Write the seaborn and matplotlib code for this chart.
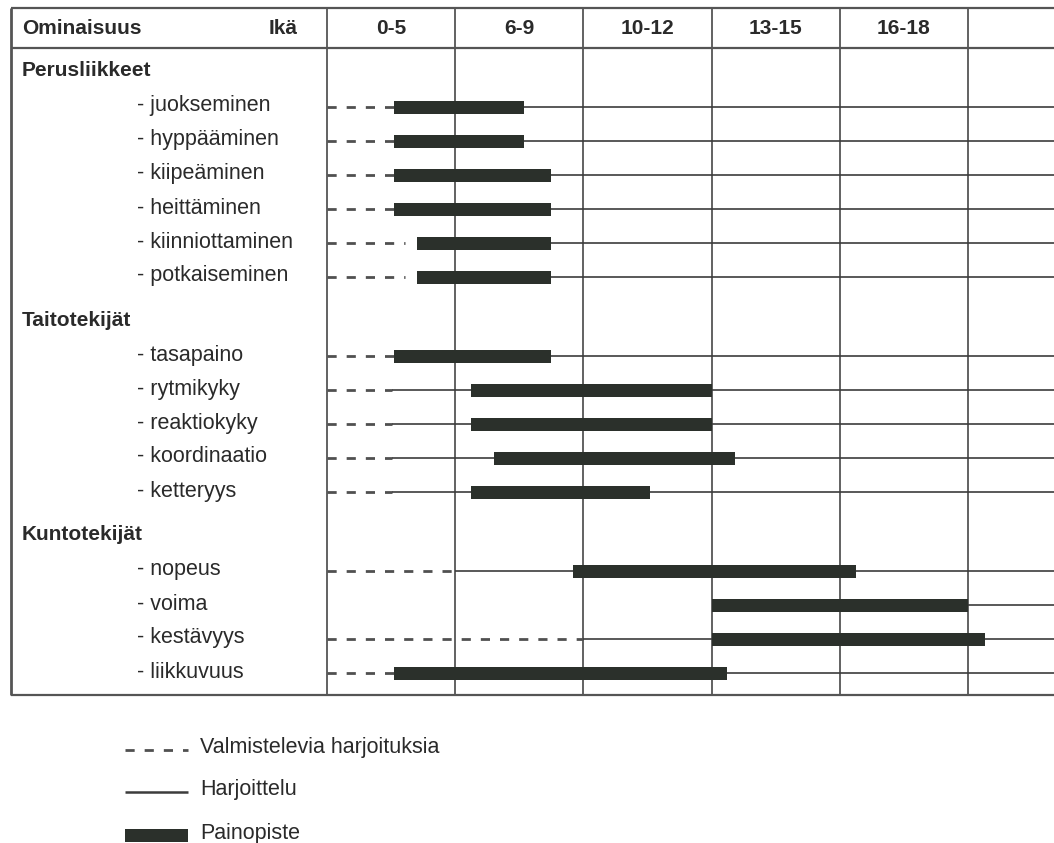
import numpy as np
import matplotlib.pyplot as plt
import seaborn as sns

sns.set_theme(style="white")
plt.rcParams['font.family'] = ['Liberation Sans', 'DejaVu Sans']

# ===== Data =====
ika_ryhmat = ['0-5', '6-9', '10-12', '13-15', '16-18', '']

ryhmat = ['Perusliikkeet', 'Taitotekijät', 'Kuntotekijät']
ominaisuudet = [
    ['juokseminen', 'hyppääminen', 'kiipeäminen', 'heittäminen', 'kiinniottaminen', 'potkaiseminen'],
    ['tasapaino', 'rytmikyky', 'reaktiokyky', 'koordinaatio', 'ketteryys'],
    ['nopeus', 'voima', 'kestävyys', 'liikkuvuus'],
]

# positions in age-column units (0 = start of 0-5 column, 1 = start of 6-9, ...)
valmistelu_loppu = [0.52, 0.52, 0.52, 0.52, 0.61, 0.61,
                    0.52, 0.51, 0.51, 0.51, 0.51,
                    1.00, np.nan, 2.00, 0.52]
harjoittelu_alku = [0.52, 0.52, 0.52, 0.52, 0.70, 0.70,
                    0.52, 0.51, 0.51, 0.51, 0.51,
                    1.00, 3.00, 2.00, 0.52]
painopiste_alku = [0.52, 0.52, 0.52, 0.52, 0.70, 0.70,
                   0.52, 1.12, 1.12, 1.30, 1.12,
                   1.92, 3.00, 3.00, 0.52]
painopiste_loppu = [1.54, 1.54, 1.75, 1.75, 1.75, 1.75,
                    1.75, 3.00, 3.00, 3.18, 2.52,
                    4.13, 5.00, 5.13, 3.12]

legend_labels = ['Valmistelevia harjoituksia', 'Harjoittelu', 'Painopiste']

# ===== Layout helpers (figure pixels) =====
W, H = 1054, 843
COL0_PX, COL_W_PX = 327, 128.2


def px2col(px):
    return (px - COL0_PX) / COL_W_PX


BAR_COLOR = '#2b302b'
LINE_COLOR = '#3c3c3c'
GRID_COLOR = '#555555'
TEXT_COLOR = '#2a2a2a'

fig = plt.figure(figsize=(W / 100, H / 100), dpi=100)
ax = fig.add_axes([0, 0, 1, 1])
ax.set_xlim(px2col(0), px2col(W))
ax.set_ylim(H, 0)
ax.axis('off')

x_left = px2col(11)
x_right = px2col(W) + 0.5
top, head_bot, bottom = 8, 48, 695

# table frame and grid
ax.hlines([top, head_bot, bottom], x_left, x_right, color=GRID_COLOR, lw=1.6, zorder=1)
ax.vlines(x_left, top, bottom, color=GRID_COLOR, lw=2.0, zorder=1)
ax.vlines(np.arange(len(ika_ryhmat)), top, bottom, color=GRID_COLOR, lw=1.3, zorder=1)

# header row
ax.text(px2col(22), 28, 'Ominaisuus', fontsize=15, fontweight='bold',
        color=TEXT_COLOR, ha='left', va='center')
ax.text(px2col(298), 28, 'Ikä', fontsize=15, fontweight='bold',
        color=TEXT_COLOR, ha='right', va='center')
for i, lab in enumerate(ika_ryhmat):
    ax.text(i + 0.5, 28, lab, fontsize=15, fontweight='bold',
            color=TEXT_COLOR, ha='center', va='center')

# row positions
step, group_gap, head_off = 34, 79, 36
rivi_y, otsikko_y, nimet = [], [], []
y = 107
for g, ryhma in enumerate(ryhmat):
    if g > 0:
        y += group_gap - step
    otsikko_y.append(y - head_off)
    for nimi in ominaisuudet[g]:
        rivi_y.append(y)
        nimet.append(nimi)
        y += step

dash_style = (0, (3.3, 3.6))

for g, ryhma in enumerate(ryhmat):
    ax.text(px2col(22), otsikko_y[g], ryhma, fontsize=15, fontweight='bold',
            color=TEXT_COLOR, ha='left', va='center')

for i, nimi in enumerate(nimet):
    yy = rivi_y[i]
    ax.text(px2col(137), yy - 1, '- ' + nimi, fontsize=15.5,
            color=TEXT_COLOR, ha='left', va='center')
    if not np.isnan(valmistelu_loppu[i]):
        ax.plot([0, valmistelu_loppu[i]], [yy, yy], color='#505050',
                lw=2.0, linestyle=dash_style, dash_capstyle='butt', zorder=2)
    ax.hlines(yy, harjoittelu_alku[i], x_right, color=LINE_COLOR, lw=1.2, zorder=2)

ax.barh(rivi_y, np.array(painopiste_loppu) - np.array(painopiste_alku),
        left=painopiste_alku, height=13, color=BAR_COLOR, edgecolor='none', zorder=3)

# legend
lx0, lx1, ltx = px2col(125), px2col(188), px2col(200)
leg_y = [750, 792, 835]
ax.plot([lx0, lx1], [leg_y[0], leg_y[0]], color='#505050', lw=2.0,
        linestyle=dash_style, dash_capstyle='butt')
ax.hlines(leg_y[1], lx0, lx1, color=LINE_COLOR, lw=1.8)
ax.barh(leg_y[2], lx1 - lx0, left=lx0, height=13, color=BAR_COLOR, edgecolor='none')
for yy, lab in zip(leg_y, legend_labels):
    ax.text(ltx, yy - 2, lab, fontsize=15.5, color=TEXT_COLOR, ha='left', va='center')

fig.savefig('out.png', dpi=100)
